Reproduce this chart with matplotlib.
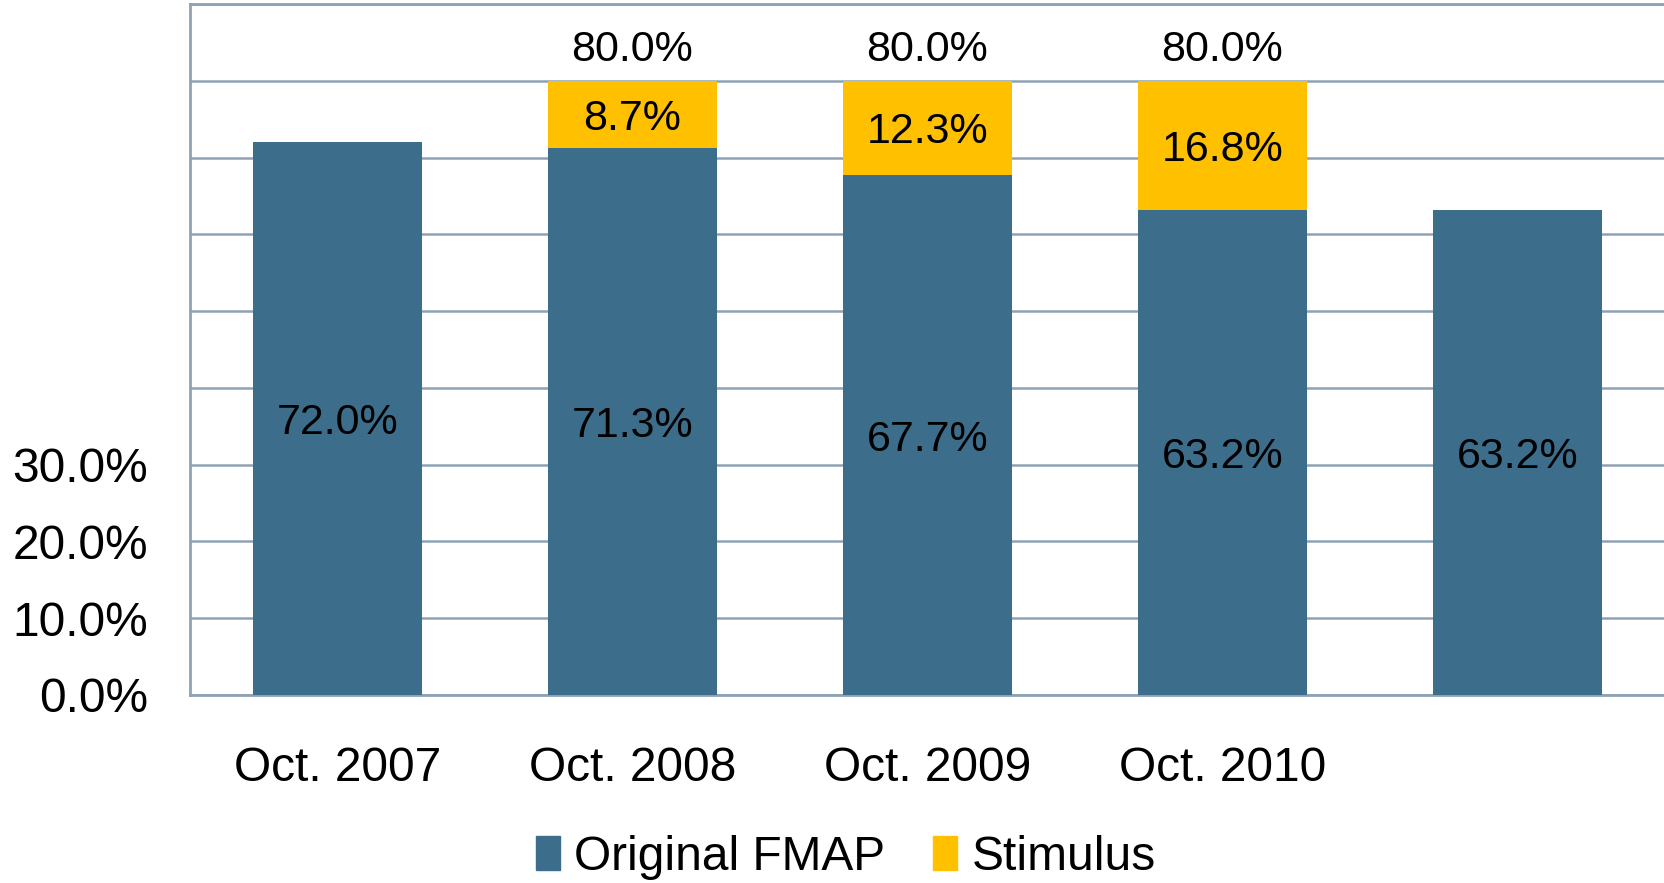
import matplotlib
matplotlib.use("Agg")
import matplotlib.pyplot as plt
from matplotlib.patches import Patch

# === DADOS ===
categorias = ["Oct. 2007", "Oct. 2008", "Oct. 2009", "Oct. 2010", ""]
original_fmap = [0.720, 0.713, 0.677, 0.632, 0.632]
estimulo = [0.0, 0.087, 0.123, 0.168, 0.0]
total_labels = ["", "80.0%", "80.0%", "80.0%", ""]
yticks = [0.0, 0.1, 0.2, 0.3, 0.4, 0.5, 0.6, 0.7, 0.8, 0.9]
ytick_labels = ["0.0%", "10.0%", "20.0%", "30.0%", "", "", "", "", "", ""]

COL_FMAP = "#3C6D8A"
COL_STIM = "#FFC000"
COL_GRID = "#8FA2B4"

plt.rcParams.update({
    "font.family": ["Liberation Sans", "DejaVu Sans"],
    "font.size": 33,
})

fig = plt.figure(figsize=(16.65, 8.83), dpi=100)
ax = fig.add_axes([190 / 1665, 1 - 695 / 883, 1 - 190 / 1665, (695 - 4) / 883])

x = range(len(categorias))
w = 0.573
ax.bar(x, original_fmap, width=w, color=COL_FMAP, zorder=3)
ax.bar(x, estimulo, width=w, bottom=original_fmap, color=COL_STIM, zorder=3)

LBL = 31
for i in x:
    ax.text(i, original_fmap[i] / 2, f"{original_fmap[i] * 100:.1f}%",
            ha="center", va="center_baseline", fontsize=LBL, zorder=4)
    if estimulo[i] > 0:
        ax.text(i, original_fmap[i] + estimulo[i] / 2, f"{estimulo[i] * 100:.1f}%",
                ha="center", va="center_baseline", fontsize=LBL, zorder=4)
    if total_labels[i]:
        ax.text(i, original_fmap[i] + estimulo[i] + 0.046, total_labels[i],
                ha="center", va="center_baseline", fontsize=LBL, zorder=4)

ax.set_xlim(-0.5, 4.5)
ax.set_ylim(0, 0.9)
ax.set_yticks(yticks)
ax.set_yticklabels(ytick_labels, fontsize=34.5)
ax.set_xticks(list(x))
ax.set_xticklabels(categorias)
ax.tick_params(axis="both", length=0)
ax.tick_params(axis="y", pad=30)
ax.tick_params(axis="x", pad=37, labelsize=34.5)

ax.grid(axis="y", color=COL_GRID, linewidth=1.8, zorder=0)
ax.spines["right"].set_visible(False)
for s in ["left", "bottom", "top"]:
    ax.spines[s].set_color(COL_GRID)
    ax.spines[s].set_linewidth(2)

handles = [Patch(color=COL_FMAP, label="Original FMAP"),
           Patch(color=COL_STIM, label="Stimulus")]
fig.legend(handles=handles, loc="center", bbox_to_anchor=(846 / 1665, 1 - 857 / 883),
           ncol=2, frameon=False, fontsize=34.5, handlelength=0.5, handleheight=0.7,
           handletextpad=0.3, columnspacing=1.0)

fig.savefig("out.png", dpi=100)
